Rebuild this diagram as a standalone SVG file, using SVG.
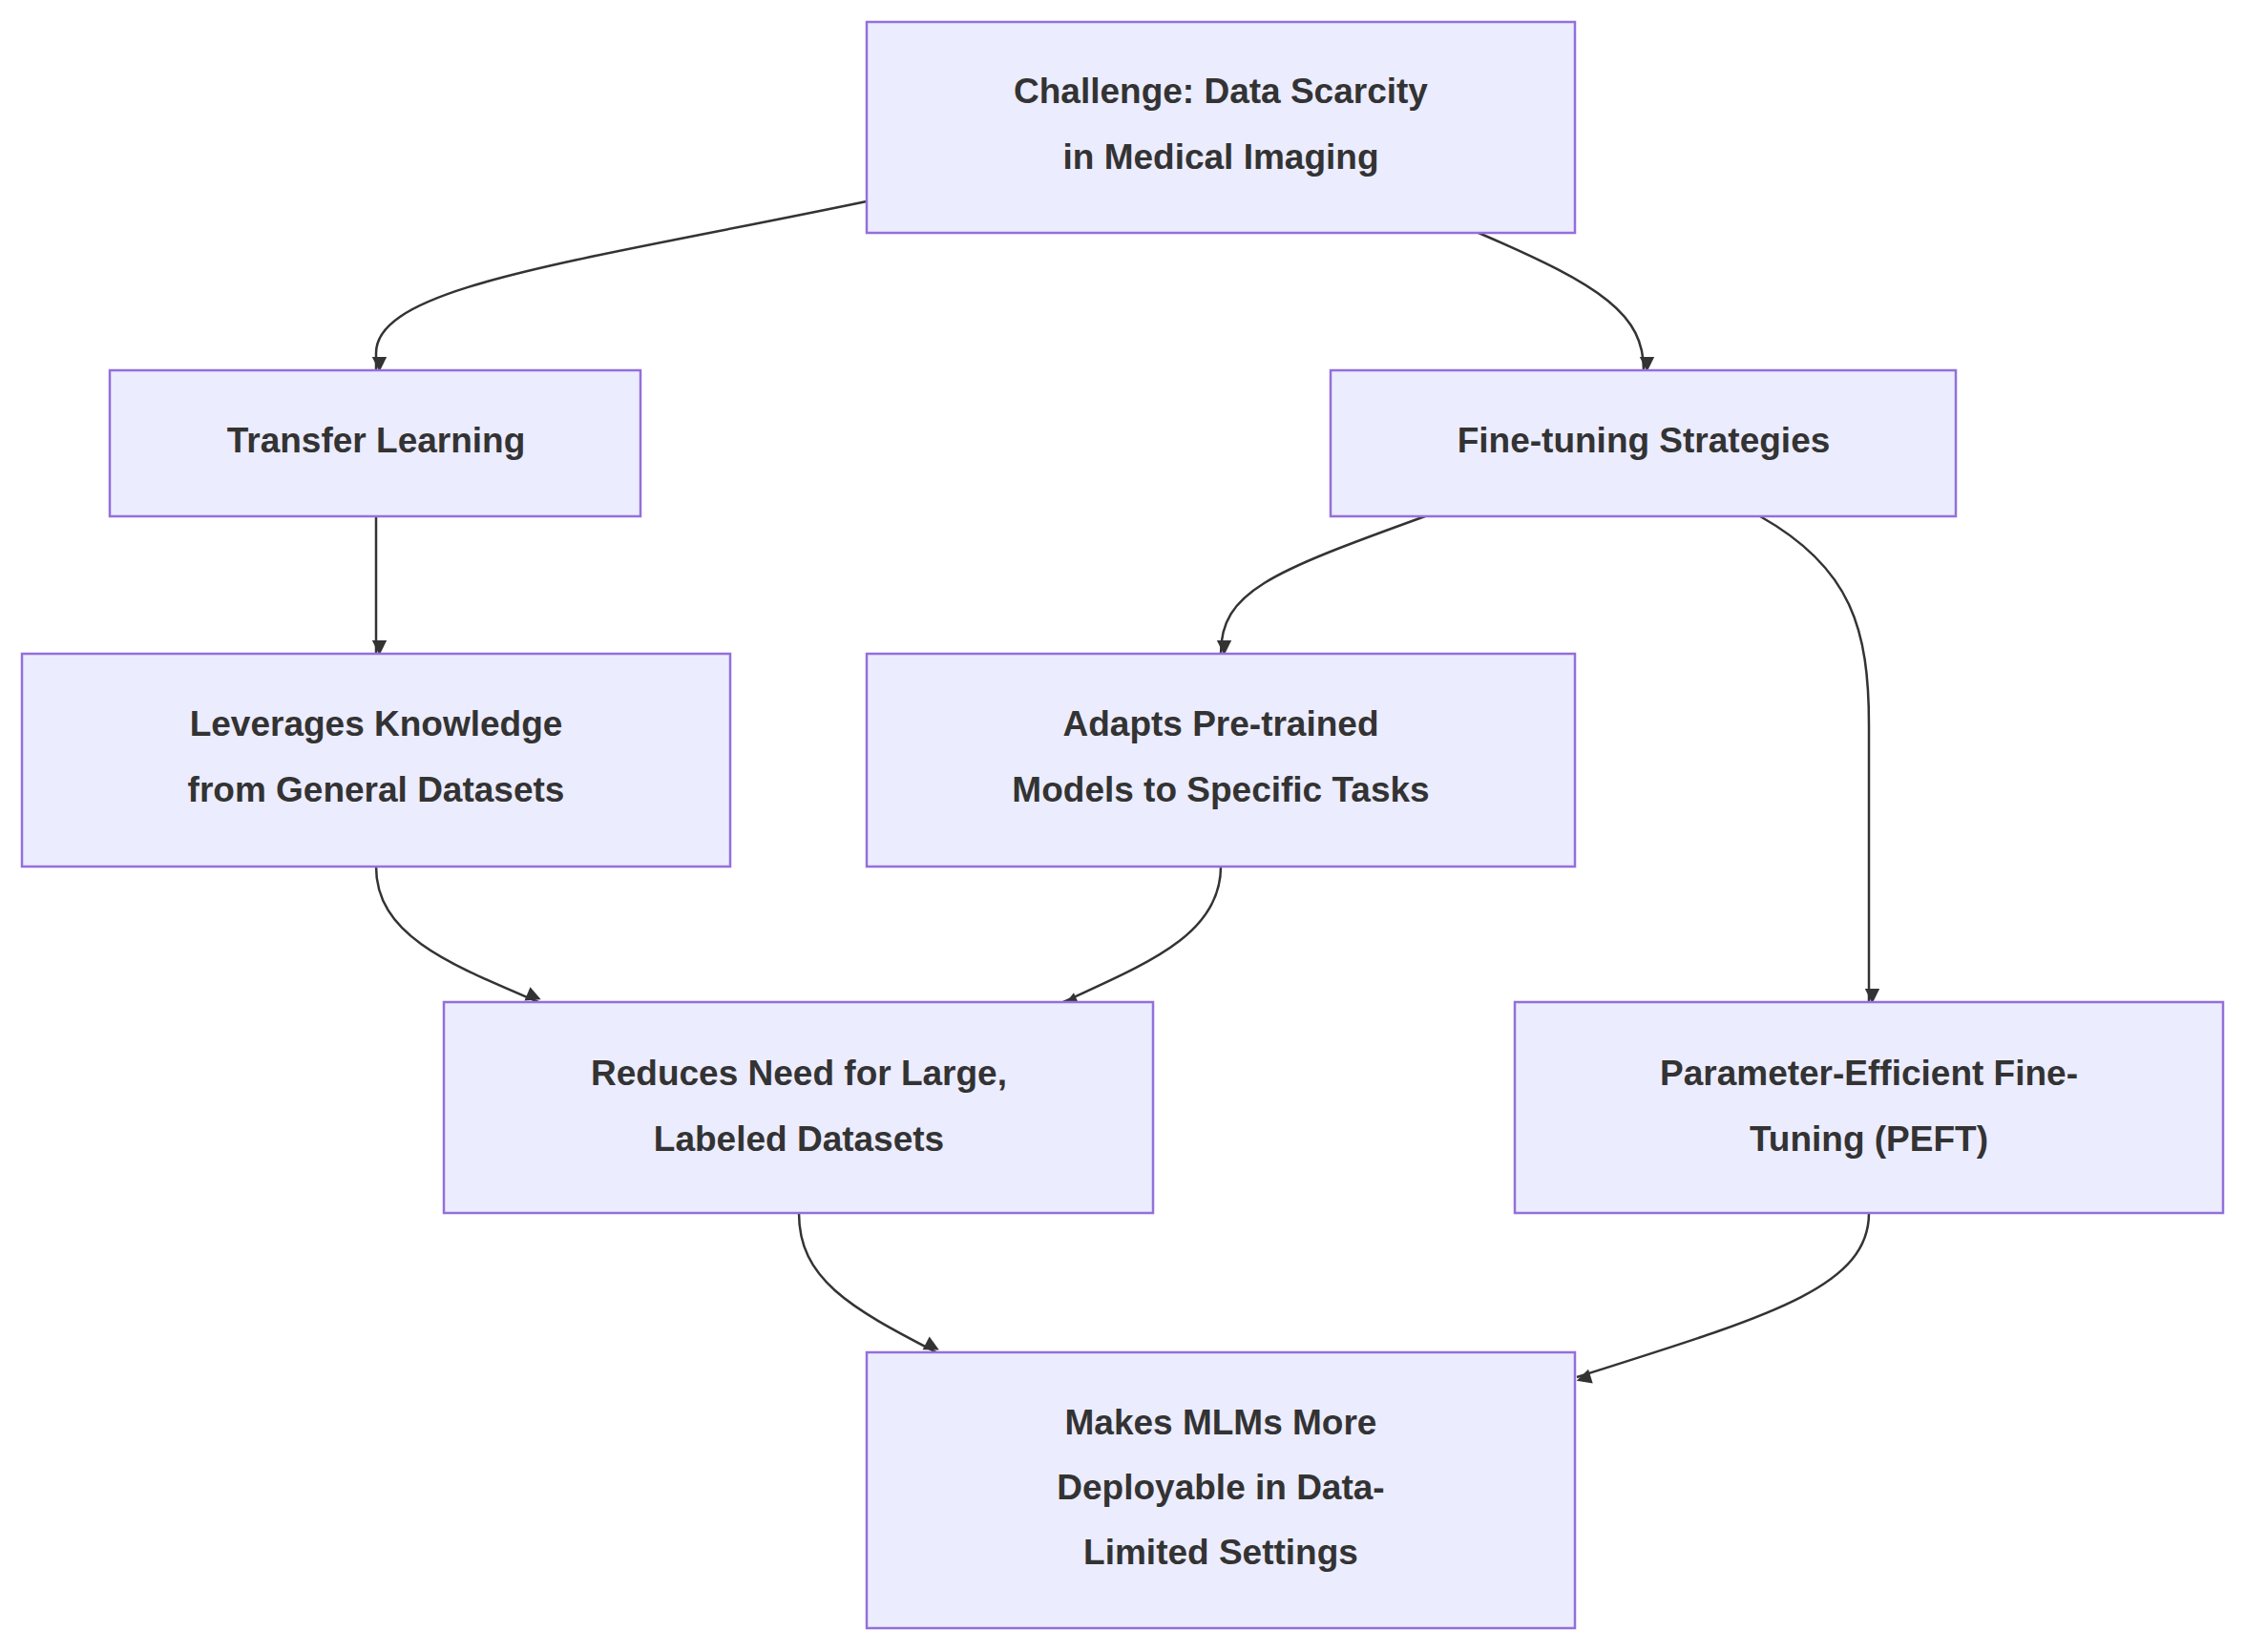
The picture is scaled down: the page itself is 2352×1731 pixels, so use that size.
<svg xmlns="http://www.w3.org/2000/svg" width="2352" height="1731" viewBox="0 0 2352 1731">
<style>
.n rect{fill:#ECECFF;stroke:#9370DB;stroke-width:2.5}
.n text{font-family:"Liberation Sans",Arial,sans-serif;font-weight:bold;font-size:37px;fill:#333;text-anchor:middle;dominant-baseline:central}
.e path{fill:none;stroke:#333;stroke-width:2.5;marker-end:url(#a)}
</style>
<defs><marker id="a" viewBox="0 0 10 10" refX="9" refY="5" markerWidth="7" markerHeight="7" markerUnits="userSpaceOnUse" orient="auto" style="overflow:visible"><path d="M0,0L10,5L0,10z" fill="#333" transform="scale(2.2) translate(-5.5,-5) translate(5,5) translate(-4.5,-5)"/></marker></defs>
<rect width="2352" height="1731" fill="#fff"/>
<g class="e">
<path d="M908,211 C600,275 394,300 394,370 L394,388"/>
<path d="M1549,244 C1680,300 1722,330 1722,388"/>
<path d="M394,541 L394,685"/>
<path d="M1493,541 C1330,600 1279,620 1279,685"/>
<path d="M1844,541 C1940,595 1958,660 1958,760 L1958,1050"/>
<path d="M394,908 C394,980 470,1010 564,1050"/>
<path d="M1279,908 C1279,980 1200,1010 1114,1050"/>
<path d="M837,1271 C837,1340 890,1370 981,1417"/>
<path d="M1958,1271 C1958,1350 1850,1380 1652,1443"/>
</g>
<g id="n1" class="n"><rect x="908" y="23" width="742" height="221"/><text x="1279" y="95">Challenge: Data Scarcity</text><text x="1279" y="164">in Medical Imaging</text></g>
<g id="n2" class="n"><rect x="115" y="388" width="556" height="153"/><text x="394" y="461">Transfer Learning</text></g>
<g id="n3" class="n"><rect x="1394" y="388" width="655" height="153"/><text x="1722" y="461">Fine-tuning Strategies</text></g>
<g id="n4" class="n"><rect x="23" y="685" width="742" height="223"/><text x="394" y="758">Leverages Knowledge</text><text x="394" y="827">from General Datasets</text></g>
<g id="n5" class="n"><rect x="908" y="685" width="742" height="223"/><text x="1279" y="758">Adapts Pre-trained</text><text x="1279" y="827">Models to Specific Tasks</text></g>
<g id="n6" class="n"><rect x="465" y="1050" width="743" height="221"/><text x="837" y="1124">Reduces Need for Large,</text><text x="837" y="1193">Labeled Datasets</text></g>
<g id="n7" class="n"><rect x="1587" y="1050" width="742" height="221"/><text x="1958" y="1124">Parameter-Efficient Fine-</text><text x="1958" y="1193">Tuning (PEFT)</text></g>
<g id="n8" class="n"><rect x="908" y="1417" width="742" height="289"/><text x="1279" y="1490">Makes MLMs More</text><text x="1279" y="1558">Deployable in Data-</text><text x="1279" y="1626">Limited Settings</text></g>
</svg>
